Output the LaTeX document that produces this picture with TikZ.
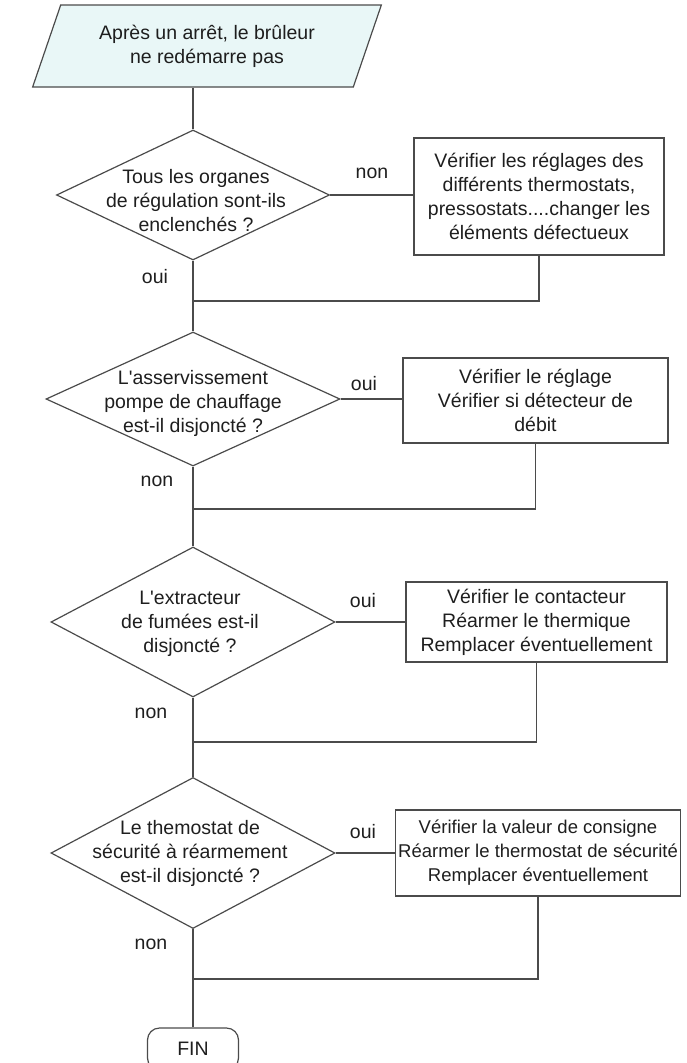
\documentclass[tikz,border=0pt]{standalone}
\usepackage{fontspec}
\setmainfont{Liberation Sans}[Ligatures=TeXOff]
\usetikzlibrary{shapes.geometric}
\definecolor{ln}{RGB}{75,75,75}
\definecolor{tx}{RGB}{30,30,30}
\definecolor{para}{RGB}{233,247,247}
\begin{document}
\begin{tikzpicture}[x=1pt,y=-1pt,
  every node/.style={text=tx, inner sep=0pt},
  font=\fontsize{19.5}{24}\selectfont,
  conn/.style={draw=ln, line width=1.2pt},
  shp/.style={draw=ln, line width=1.2pt},
  dia/.style={shp, diamond},
  box/.style={shp, rectangle, align=center},
  txt/.style={align=center},
  endbox/.style={shp, rectangle, rounded corners=12pt}
]
\useasboundingbox (0,0) rectangle (687,1063);

\node[shp, trapezium, trapezium left angle=64, trapezium right angle=116,
      trapezium stretches=true, minimum width=350pt, minimum height=82pt,
      fill=para, align=center] (start) at (207,46) {Après un arrêt, le brûleur\\ne redémarre pas};

% decision 1
\node[dia, minimum width=273pt, minimum height=130pt] (d1) at (193,195) {};
\node[txt] (t1) at (196,201) {Tous les organes\\de régulation sont-ils\\enclenchés ?};
\node[box, minimum width=250pt, minimum height=117pt] (b1) at (539,196.5)
  {Vérifier les réglages des\\différents thermostats,\\pressostats....changer les\\éléments défectueux};
\node (l1) at (372,173) {non};
\node (l2) at (155,277) {oui};
\coordinate (m1) at (193,301);

% decision 2
\node[dia, minimum width=294pt, minimum height=134pt] (d2) at (193,399) {};
\node[txt] (t2) at (193,403) {L'asservissement\\pompe de chauffage\\est-il disjoncté ?};
\node[box, minimum width=265pt, minimum height=85pt] (b2) at (535.5,400.5)
  {Vérifier le réglage\\Vérifier si détecteur de\\débit};
\node (l3) at (364,384) {oui};
\node (l4) at (157,481) {non};
\coordinate (m2) at (193,509);

% decision 3
\node[dia, minimum width=284pt, minimum height=150pt] (d3) at (193,622) {};
\node[txt] (t3) at (190,624) {L'extracteur\\de fumées est-il\\disjoncté ?};
\node[box, minimum width=261pt, minimum height=80pt] (b3) at (536.5,622)
  {Vérifier le contacteur\\Réarmer le thermique\\Remplacer éventuellement};
\node (l5) at (363,601) {oui};
\node (l6) at (151,713) {non};
\coordinate (m3) at (193,742);

% decision 4
\node[dia, minimum width=284pt, minimum height=151pt] (d4) at (193,853) {};
\node[txt] (t4) at (190,853) {Le themostat de\\sécurité à réarmement\\est-il disjoncté ?};
\node[box, minimum width=285pt, minimum height=86pt, font=\fontsize{18.5}{24}\selectfont] (b4) at (538,853)
  {Vérifier la valeur de consigne\\Réarmer le thermostat de sécurité\\Remplacer éventuellement};
\node (l7) at (363,832) {oui};
\node (l8) at (151,944) {non};
\coordinate (m4) at (193,979);

\node[endbox, minimum width=91pt, minimum height=42pt] (fin) at (193,1049) {FIN};

% connectors
\draw[conn] (d1.north |- start.south) -- (d1.north);
\draw[conn] (d1.east) -- (d1.east -| b1.west);
\draw[conn] (b1.south) |- (m1);
\draw[conn] (d1.south) -- (m1) -- (d2.north);

\draw[conn] (d2.east) -- (d2.east -| b2.west);
\draw[conn] (b2.south) |- (m2);
\draw[conn] (d2.south) -- (m2) -- (d3.north);

\draw[conn] (d3.east) -- (d3.east -| b3.west);
\draw[conn] (b3.south) |- (m3);
\draw[conn] (d3.south) -- (m3) -- (d4.north);

\draw[conn] (d4.east) -- (d4.east -| b4.west);
\draw[conn] (b4.south) |- (m4);
\draw[conn] (d4.south) -- (m4) -- (fin.north);
\end{tikzpicture}
\end{document}
